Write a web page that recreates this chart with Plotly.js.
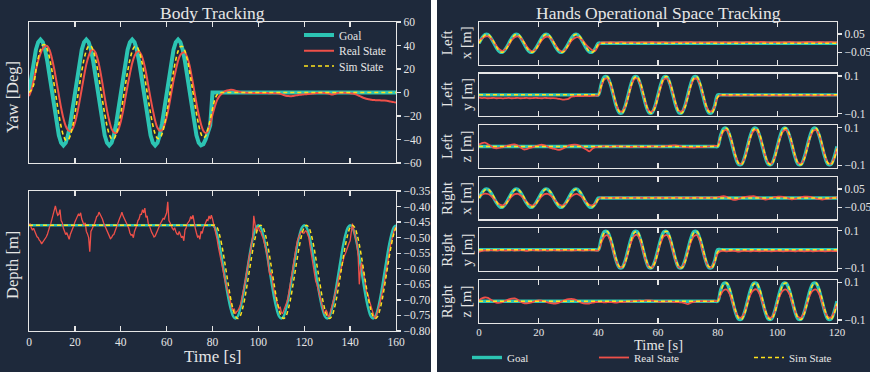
<!DOCTYPE html>
<html><head><meta charset="utf-8">
<script src="https://cdn.plot.ly/plotly-3.0.1.min.js"></script>
<style>html,body{margin:0;padding:0;background:#ffffff;}#chart{width:870px;height:372px;}</style>
</head><body><div id="chart"></div>
<script>
// ---------------- DATA ----------------
const tBody = [0,1,2,3,4,5,6,7,8,9,10,11,12,13,14,15,16,17,18,19,20,21,22,23,24,25,26,27,28,29,30,31,32,33,34,35,36,37,38,39,40,41,42,43,44,45,46,47,48,49,50,51,52,53,54,55,56,57,58,59,60,61,62,63,64,65,66,67,68,69,70,71,72,73,74,75,76,77,78,79,80,81,82,83,84,85,86,87,88,89,90,91,92,93,94,95,96,97,98,99,100,101,102,103,104,105,106,107,108,109,110,111,112,113,114,115,116,117,118,119,120,121,122,123,124,125,126,127,128,129,130,131,132,133,134,135,136,137,138,139,140,141,142,143,144,145,146,147,148,149,150,151,152,153,154,155,156,157,158,159,160];

const yawGoal = [
0,13.9,26.5,36.4,42.8,45,42.8,36.4,26.5,13.9,0,-13.9,-26.5,-36.4,-42.8,-45,-42.8,-36.4,-26.5,-13.9,
0,13.9,26.5,36.4,42.8,45,42.8,36.4,26.5,13.9,0,-13.9,-26.5,-36.4,-42.8,-45,-42.8,-36.4,-26.5,-13.9,
0,13.9,26.5,36.4,42.8,45,42.8,36.4,26.5,13.9,0,-13.9,-26.5,-36.4,-42.8,-45,-42.8,-36.4,-26.5,-13.9,
0,13.9,26.5,36.4,42.8,45,42.8,36.4,26.5,13.9,0,-13.9,-26.5,-36.4,-42.8,-45,-44,-40,-34,-28,
0,0,0,0,0,0,0,0,0,0,0,0,0,0,0,0,0,0,0,0,
0,0,0,0,0,0,0,0,0,0,0,0,0,0,0,0,0,0,0,0,
0,0,0,0,0,0,0,0,0,0,0,0,0,0,0,0,0,0,0,0,
0,0,0,0,0,0,0,0,0,0,0,0,0,0,0,0,0,0,0,0,
0];
const yawReal = [
-3,2,10,19,27,33,37.5,39.5,39.5,36,29,20,9,-2,-13,-22,-28.5,-32,-33,-31,-26,
-18,-8,3,14,24,31,35.5,36.5,34,28,19,8,-4,-15,-24,-31,-34,-34.5,-31.5,-25,
-16,-5,6,16,25,31,34.5,35,32,26,17,6,-5,-15,-24,-30,-32.5,-32,-28,-21,
-12,-1,10,19,27,32,34,34,30,23,13,2,-9,-19,-27,-32.5,-34.5,-33,-27,-19,
-12,-6.5,-3,-1,0.5,1.5,2,2.3,2.1,1.5,0.9,0.4,0.1,-0.1,-0.2,-0.3,-0.3,-0.4,-0.3,-0.4,
-0.4,-0.5,-0.4,-0.5,-0.6,-0.5,-0.6,-0.7,-0.9,-1.4,-2.1,-2.7,-3,-3.1,-2.9,-2.6,-2.3,-2,-1.8,-1.6,
-1.4,-1.2,-1,-0.8,-0.6,-0.4,-0.3,-0.3,-0.4,-0.6,-1,-1.8,-1.4,-0.7,-0.3,-0.2,-0.2,-0.3,-0.4,-0.6,
-0.9,-1.3,-2,-2.9,-3.8,-4.7,-5.3,-5.8,-6.1,-6.4,-6.5,-6.6,-6.7,-6.8,-6.9,-7.1,-7.4,-7.8,-8.2,-8.5];
const yawSim = [
0,2,
6.4,18.6,29,36.5,40.5,40.5,36.5,29,18.6,6.4,-6.4,-18.6,-29,-36.5,-40.5,-40.5,-36.5,-29,-18.6,-6.4,
6.2,18.2,28.3,35.6,39.5,39.5,35.6,28.3,18.2,6.2,-6.2,-18.2,-28.3,-35.6,-39.5,-39.5,-35.6,-28.3,-18.2,-6.2,
6.2,17.9,27.9,35.2,39,39,35.2,27.9,17.9,6.2,-6.2,-17.9,-27.9,-35.2,-39,-39,-35.2,-27.9,-17.9,-6.2,
6.2,17.9,27.9,35.2,39,39,35.2,27.9,17.9,6.2,-6.2,-17.9,-27.9,-35.2,-38.5,-37,-31,-23,-14,-6,-2,-0.5,
0,0,0,0,0,0,0,0,0,0,0,0,0,0,0,0,0,0,0,0,
0,0,0,0,0,0,0,0,0,0,0,0,0,0,0,0,0,0,0,0,
0,0,0,0,0,0,0,0,0,0,0,0,0,0,0,0,0,0,0,0,
0,0,0,0,0,0,0,0,0,0,0,0,0,0,0,0,0];

const depthGoal = [
-0.46,-0.46,-0.46,-0.46,-0.46,-0.46,-0.46,-0.46,-0.46,-0.46,-0.46,-0.46,-0.46,-0.46,-0.46,-0.46,-0.46,-0.46,-0.46,-0.46,
-0.46,-0.46,-0.46,-0.46,-0.46,-0.46,-0.46,-0.46,-0.46,-0.46,-0.46,-0.46,-0.46,-0.46,-0.46,-0.46,-0.46,-0.46,-0.46,-0.46,
-0.46,-0.46,-0.46,-0.46,-0.46,-0.46,-0.46,-0.46,-0.46,-0.46,-0.46,-0.46,-0.46,-0.46,-0.46,-0.46,-0.46,-0.46,-0.46,-0.46,
-0.46,-0.46,-0.46,-0.46,-0.46,-0.46,-0.46,-0.46,-0.46,-0.46,-0.46,-0.46,-0.46,-0.46,-0.46,-0.46,-0.46,-0.46,-0.46,-0.46,
-0.46,
-0.467,-0.489,-0.522,-0.564,-0.61,-0.656,-0.698,-0.731,-0.753,-0.76,-0.753,-0.731,-0.698,-0.656,-0.61,-0.564,-0.522,-0.489,-0.467,-0.46,
-0.467,-0.489,-0.522,-0.564,-0.61,-0.656,-0.698,-0.731,-0.753,-0.76,-0.753,-0.731,-0.698,-0.656,-0.61,-0.564,-0.522,-0.489,-0.467,-0.46,
-0.467,-0.489,-0.522,-0.564,-0.61,-0.656,-0.698,-0.731,-0.753,-0.76,-0.753,-0.731,-0.698,-0.656,-0.61,-0.564,-0.522,-0.489,-0.467,-0.46,
-0.467,-0.489,-0.522,-0.564,-0.61,-0.656,-0.698,-0.731,-0.753,-0.76,-0.753,-0.731,-0.698,-0.656,-0.61,-0.564,-0.522,-0.489,-0.467,-0.46];
const depthSim = [
-0.46,-0.46,-0.46,-0.46,-0.46,-0.46,-0.46,-0.46,-0.46,-0.46,-0.46,-0.46,-0.46,-0.46,-0.46,-0.46,-0.46,-0.46,-0.46,-0.46,
-0.46,-0.46,-0.46,-0.46,-0.46,-0.46,-0.46,-0.46,-0.46,-0.46,-0.46,-0.46,-0.46,-0.46,-0.46,-0.46,-0.46,-0.46,-0.46,-0.46,
-0.46,-0.46,-0.46,-0.46,-0.46,-0.46,-0.46,-0.46,-0.46,-0.46,-0.46,-0.46,-0.46,-0.46,-0.46,-0.46,-0.46,-0.46,-0.46,-0.46,
-0.46,-0.46,-0.46,-0.46,-0.46,-0.46,-0.46,-0.46,-0.46,-0.46,-0.46,-0.46,-0.46,-0.46,-0.46,-0.46,-0.46,-0.46,-0.46,-0.46,
-0.46,-0.46,
-0.467,-0.489,-0.522,-0.564,-0.61,-0.656,-0.698,-0.731,-0.753,-0.76,-0.753,-0.731,-0.698,-0.656,-0.61,-0.564,-0.522,-0.489,-0.467,-0.46,
-0.467,-0.489,-0.522,-0.564,-0.61,-0.656,-0.698,-0.731,-0.753,-0.76,-0.753,-0.731,-0.698,-0.656,-0.61,-0.564,-0.522,-0.489,-0.467,-0.46,
-0.467,-0.489,-0.522,-0.564,-0.61,-0.656,-0.698,-0.731,-0.753,-0.76,-0.753,-0.731,-0.698,-0.656,-0.61,-0.564,-0.522,-0.489,-0.467,-0.46,
-0.467,-0.489,-0.522,-0.564,-0.61,-0.656,-0.698,-0.731,-0.753,-0.76,-0.753,-0.731,-0.698,-0.656,-0.61,-0.564,-0.522,-0.489,-0.467];

// real depth is sampled every half second
const tDepthReal = [
0,0.5,1,1.5,2,2.5,3,3.5,4,4.5,5,5.5,6,6.5,7,7.5,8,8.5,9,9.5,
10,10.5,11,11.5,12,12.5,13,13.5,14,14.5,15,15.5,16,16.5,17,17.5,18,18.5,19,19.5,
20,20.5,21,21.5,22,22.5,23,23.5,24,24.5,25,25.5,26,26.5,27,27.5,28,28.5,29,29.5,
30,30.5,31,31.5,32,32.5,33,33.5,34,34.5,35,35.5,36,36.5,37,37.5,38,38.5,39,39.5,
40,40.5,41,41.5,42,42.5,43,43.5,44,44.5,45,45.5,46,46.5,47,47.5,48,48.5,49,49.5,
50,50.5,51,51.5,52,52.5,53,53.5,54,54.5,55,55.5,56,56.5,57,57.5,58,58.5,59,59.5,
60,60.5,61,61.5,62,62.5,63,63.5,64,64.5,65,65.5,66,66.5,67,67.5,68,68.5,69,69.5,
70,70.5,71,71.5,72,72.5,73,73.5,74,74.5,75,75.5,76,76.5,77,77.5,78,78.5,79,79.5,
80,80.5,81,81.5,82,82.5,83,83.5,84,84.5,85,85.5,86,86.5,87,87.5,88,88.5,89,89.5,
90,90.5,91,91.5,92,92.5,93,93.5,94,94.5,95,95.5,96,96.5,97,97.5,98,98.5,99,99.5,
100,100.5,101,101.5,102,102.5,103,103.5,104,104.5,105,105.5,106,106.5,107,107.5,108,108.5,109,109.5,
110,110.5,111,111.5,112,112.5,113,113.5,114,114.5,115,115.5,116,116.5,117,117.5,118,118.5,119,119.5,
120,120.5,121,121.5,122,122.5,123,123.5,124,124.5,125,125.5,126,126.5,127,127.5,128,128.5,129,129.5,
130,130.5,131,131.5,132,132.5,133,133.5,134,134.5,135,135.5,136,136.5,137,137.5,138,138.5,139,139.5,
140,140.5,141,141.5,142,142.5,143,143.5,144,144.5,145,145.5,146,146.5,147,147.5,148,148.5,149,149.5,
150,150.5,151,151.5,152,152.5,153,153.5,154,154.5,155,155.5,156,156.5,157,157.5,158,158.5,159,159.5,
160];
const depthReal = [
-0.462,-0.455,-0.468,-0.476,-0.470,-0.482,-0.488,-0.497,-0.500,-0.508,-0.512,-0.520,-0.515,-0.506,-0.505,-0.498,-0.490,-0.472,-0.465,-0.455,
-0.440,-0.428,-0.420,-0.398,-0.415,-0.428,-0.425,-0.410,-0.445,-0.452,-0.470,-0.478,-0.490,-0.484,-0.495,-0.505,-0.490,-0.482,-0.470,-0.462,
-0.450,-0.440,-0.435,-0.425,-0.430,-0.420,-0.440,-0.448,-0.460,-0.452,-0.480,-0.488,-0.500,-0.545,-0.480,-0.472,-0.465,-0.455,-0.445,-0.432,
-0.430,-0.418,-0.425,-0.432,-0.440,-0.452,-0.460,-0.468,-0.480,-0.487,-0.495,-0.503,-0.500,-0.492,-0.490,-0.478,-0.470,-0.458,-0.445,-0.438,
-0.430,-0.418,-0.430,-0.438,-0.445,-0.455,-0.465,-0.470,-0.485,-0.492,-0.490,-0.500,-0.480,-0.472,-0.460,-0.445,-0.440,-0.425,-0.425,-0.410,
-0.420,-0.405,-0.435,-0.430,-0.455,-0.462,-0.475,-0.483,-0.490,-0.498,-0.495,-0.485,-0.480,-0.470,-0.460,-0.452,-0.445,-0.438,-0.440,-0.428,
-0.420,-0.385,-0.445,-0.452,-0.465,-0.470,-0.475,-0.468,-0.480,-0.488,-0.490,-0.480,-0.490,-0.500,-0.495,-0.510,-0.475,-0.468,-0.455,-0.448,
-0.445,-0.432,-0.440,-0.428,-0.455,-0.470,-0.485,-0.498,-0.495,-0.505,-0.480,-0.486,-0.470,-0.462,-0.455,-0.443,-0.445,-0.430,-0.440,-0.428,
-0.440,-0.455,-0.470,-0.490,-0.505,-0.528,-0.545,-0.560,-0.585,-0.600,-0.620,-0.640,-0.655,-0.665,-0.690,-0.700,-0.710,-0.725,-0.735,-0.728,
-0.745,-0.738,-0.735,-0.728,-0.720,-0.705,-0.690,-0.668,-0.650,-0.632,-0.610,-0.585,-0.560,-0.545,-0.520,-0.500,-0.430,-0.465,-0.480,-0.470,
-0.465,-0.478,-0.480,-0.492,-0.500,-0.515,-0.530,-0.548,-0.560,-0.600,-0.620,-0.612,-0.630,-0.660,-0.680,-0.690,-0.705,-0.718,-0.730,-0.722,
-0.740,-0.745,-0.735,-0.728,-0.720,-0.705,-0.690,-0.665,-0.640,-0.620,-0.600,-0.578,-0.550,-0.530,-0.510,-0.498,-0.490,-0.482,-0.480,-0.486,
-0.485,-0.478,-0.480,-0.490,-0.500,-0.525,-0.550,-0.575,-0.600,-0.615,-0.640,-0.650,-0.665,-0.685,-0.700,-0.712,-0.725,-0.738,-0.745,-0.732,
-0.740,-0.755,-0.750,-0.735,-0.730,-0.715,-0.700,-0.685,-0.670,-0.650,-0.630,-0.615,-0.600,-0.585,-0.570,-0.558,-0.550,-0.538,-0.530,-0.518,
-0.510,-0.480,-0.455,-0.475,-0.490,-0.505,-0.520,-0.560,-0.650,-0.600,-0.580,-0.605,-0.620,-0.640,-0.670,-0.678,-0.690,-0.705,-0.720,-0.735,
-0.750,-0.755,-0.760,-0.750,-0.740,-0.725,-0.710,-0.695,-0.680,-0.660,-0.640,-0.615,-0.590,-0.570,-0.550,-0.528,-0.510,-0.495,-0.480,-0.470,
-0.465];

const tHands = [0,1,2,3,4,5,6,7,8,9,10,11,12,13,14,15,16,17,18,19,20,21,22,23,24,25,26,27,28,29,30,31,32,33,34,35,36,37,38,39,40,41,42,43,44,45,46,47,48,49,50,51,52,53,54,55,56,57,58,59,60,61,62,63,64,65,66,67,68,69,70,71,72,73,74,75,76,77,78,79,80,81,82,83,84,85,86,87,88,89,90,91,92,93,94,95,96,97,98,99,100,101,102,103,104,105,106,107,108,109,110,111,112,113,114,115,116,117,118,119,120];

const goalX = [
0,0.029,0.048,0.048,0.029,0,-0.029,-0.048,-0.048,-0.029,
0,0.029,0.048,0.048,0.029,0,-0.029,-0.048,-0.048,-0.029,
0,0.029,0.048,0.048,0.029,0,-0.029,-0.048,-0.048,-0.029,
0,0.029,0.048,0.048,0.029,0,-0.029,-0.048,-0.048,-0.029,
0,0,0,0,0,0,0,0,0,0,0,0,0,0,0,0,0,0,0,0,
0,0,0,0,0,0,0,0,0,0,0,0,0,0,0,0,0,0,0,0,
0,0,0,0,0,0,0,0,0,0,0,0,0,0,0,0,0,0,0,0,
0,0,0,0,0,0,0,0,0,0,0,0,0,0,0,0,0,0,0,0,
0];
const simX = [
0,0.025,0.045,0.049,0.033,0.006,-0.024,-0.045,-0.049,-0.034,
-0.006,0.025,0.045,0.049,0.033,0.006,-0.024,-0.045,-0.049,-0.034,
-0.006,0.025,0.045,0.049,0.033,0.006,-0.024,-0.045,-0.049,-0.034,
-0.006,0.025,0.045,0.049,0.033,0.006,-0.024,-0.045,-0.049,-0.034,
-0.006,0,0,0,0,0,0,0,0,0,0,0,0,0,0,0,0,0,0,0,
0,0,0,0,0,0,0,0,0,0,0,0,0,0,0,0,0,0,0,0,
0,0,0,0,0,0,0,0,0,0,0,0,0,0,0,0,0,0,0,0,
0,0,0,0,0,0,0,0,0,0,0,0,0,0,0,0,0,0,0,0,
0];
const realLX = [
0.012,0.026,0.036,0.038,0.027,0.006,-0.018,-0.036,-0.042,-0.031,
-0.008,0.018,0.033,0.037,0.029,0.008,-0.017,-0.037,-0.045,-0.034,
-0.01,0.016,0.032,0.036,0.028,0.007,-0.018,-0.038,-0.046,-0.035,
-0.011,0.014,0.028,0.033,0.026,0.01,-0.01,-0.025,-0.038,-0.04,
-0.012,0.004,0.005,0.004,0.006,0.005,0.003,0.005,0.007,0.004,
0.004,0.006,0.005,0.003,0.005,0.006,0.004,0.005,0.007,0.005,
0.004,0.005,0.006,0.004,0.003,0.005,0.006,0.005,0.004,0.006,
0.005,0.007,0.005,0.004,0.006,0.004,0.005,0.005,0.007,0.006,
0.005,0.004,0.006,0.005,0.004,0.006,0.007,0.005,0.004,0.005,
0.006,0.005,0.004,0.005,0.006,0.008,0.006,0.005,0.004,0.006,
0.005,0.004,0.006,0.005,0.007,0.006,0.005,0.004,0.005,0.006,
0.007,0.008,0.006,0.005,0.007,0.006,0.005,0.006,0.007,0.005,
0.005];
const realRX = [
0.008,0.018,0.024,0.022,0.012,-0.004,-0.022,-0.036,-0.04,-0.03,
-0.01,0.01,0.021,0.023,0.014,-0.003,-0.022,-0.037,-0.041,-0.031,
-0.011,0.009,0.021,0.023,0.014,-0.003,-0.022,-0.037,-0.041,-0.031,
-0.011,0.009,0.02,0.022,0.013,-0.004,-0.023,-0.037,-0.04,-0.03,
-0.008,0.003,0.002,0.001,0.002,0.001,0.002,0.003,0.002,0.001,
0.002,0.001,0.002,0.003,0.002,0.001,0.002,0.002,0.001,0.002,
0.003,0.002,0.001,0.002,0.002,0.001,0.003,0.002,0.001,0.002,
0.002,0.001,0.002,0.003,0.002,0.001,0.002,0.002,0.003,0.002,
0.004,0.008,0.01,0.006,-0.002,-0.008,-0.01,-0.005,0.002,0.006,
0.008,0.009,0.01,0.007,0.002,-0.004,-0.008,-0.006,0,0.005,
0.007,0.008,0.006,0.002,-0.003,-0.007,-0.004,0.001,0.005,0.007,
0.008,0.006,0.002,-0.003,-0.006,-0.008,-0.006,-0.003,0,0.002,
0.003];

const goalY = [
0,0,0,0,0,0,0,0,0,0,0,0,0,0,0,0,0,0,0,0,
0,0,0,0,0,0,0,0,0,0,0,0,0,0,0,0,0,0,0,0,
0,0.059,0.095,0.095,0.059,0,-0.059,-0.095,-0.095,-0.059,
0,0.059,0.095,0.095,0.059,0,-0.059,-0.095,-0.095,-0.059,
0,0.059,0.095,0.095,0.059,0,-0.059,-0.095,-0.095,-0.059,
0,0.059,0.095,0.095,0.059,0,-0.059,-0.095,-0.095,-0.059,
0,0,0,0,0,0,0,0,0,0,0,0,0,0,0,0,0,0,0,0,
0,0,0,0,0,0,0,0,0,0,0,0,0,0,0,0,0,0,0,0,
0];
const simY = [
0,0,0,0,0,0,0,0,0,0,0,0,0,0,0,0,0,0,0,0,
0,0,0,0,0,0,0,0,0,0,0,0,0,0,0,0,0,0,0,0,
0,0.05,0.09,0.097,0.068,0.012,-0.05,-0.09,-0.097,-0.068,
-0.012,0.05,0.09,0.097,0.068,0.012,-0.05,-0.09,-0.097,-0.068,
-0.012,0.05,0.09,0.097,0.068,0.012,-0.05,-0.09,-0.097,-0.068,
-0.012,0.05,0.09,0.097,0.068,0.012,-0.05,-0.09,-0.097,-0.068,
-0.012,0,0,0,0,0,0,0,0,0,0,0,0,0,0,0,0,0,0,0,
0,0,0,0,0,0,0,0,0,0,0,0,0,0,0,0,0,0,0,0,
0];
const realLY = [
-0.015,-0.017,-0.016,-0.018,-0.017,-0.016,-0.018,-0.017,-0.019,-0.017,
-0.016,-0.018,-0.017,-0.016,-0.018,-0.017,-0.016,-0.018,-0.017,-0.016,
-0.017,-0.018,-0.016,-0.017,-0.018,-0.017,-0.019,-0.022,-0.025,-0.024,
-0.021,-0.01,-0.008,-0.006,-0.007,-0.006,-0.005,-0.006,-0.005,-0.004,
-0.002,0.045,0.082,0.087,0.06,0.008,-0.05,-0.085,-0.088,-0.062,
-0.01,0.046,0.083,0.088,0.061,0.007,-0.051,-0.086,-0.089,-0.063,
-0.011,0.045,0.082,0.087,0.06,0.008,-0.05,-0.085,-0.088,-0.062,
-0.01,0.046,0.082,0.086,0.059,0.007,-0.05,-0.085,-0.087,-0.062,
-0.012,-0.002,-0.003,-0.002,-0.004,-0.003,-0.002,-0.003,-0.004,-0.002,
-0.003,-0.002,-0.004,-0.003,-0.002,-0.003,-0.002,-0.004,-0.003,-0.002,
-0.003,-0.004,-0.002,-0.003,-0.002,-0.003,-0.004,-0.002,-0.003,-0.002,
-0.003,-0.002,-0.004,-0.003,-0.002,-0.003,-0.004,-0.003,-0.002,-0.003,
-0.003];
const realRY = [
-0.012,-0.006,-0.004,-0.005,-0.003,-0.004,-0.005,-0.003,-0.004,-0.005,
-0.004,-0.003,-0.005,-0.004,-0.003,-0.004,-0.006,-0.004,-0.003,-0.004,
-0.005,-0.004,-0.003,-0.005,-0.004,-0.003,-0.004,-0.005,-0.004,-0.003,
-0.004,-0.005,-0.004,-0.003,-0.004,-0.005,-0.004,-0.003,-0.004,-0.005,
-0.004,0.038,0.07,0.077,0.05,-0.005,-0.06,-0.092,-0.093,-0.065,
-0.012,0.04,0.072,0.078,0.052,-0.004,-0.06,-0.092,-0.094,-0.066,
-0.012,0.04,0.072,0.077,0.051,-0.005,-0.061,-0.093,-0.094,-0.065,
-0.012,0.04,0.071,0.077,0.05,-0.005,-0.06,-0.092,-0.093,-0.064,
-0.02,-0.008,-0.007,-0.009,-0.008,-0.007,-0.008,-0.01,-0.008,-0.007,
-0.008,-0.009,-0.007,-0.008,-0.009,-0.008,-0.007,-0.008,-0.009,-0.008,
-0.007,-0.008,-0.009,-0.008,-0.007,-0.008,-0.009,-0.007,-0.008,-0.009,
-0.008,-0.007,-0.009,-0.008,-0.007,-0.008,-0.009,-0.008,-0.007,-0.008,
-0.008];

const goalZ = [
0,0,0,0,0,0,0,0,0,0,0,0,0,0,0,0,0,0,0,0,
0,0,0,0,0,0,0,0,0,0,0,0,0,0,0,0,0,0,0,0,
0,0,0,0,0,0,0,0,0,0,0,0,0,0,0,0,0,0,0,0,
0,0,0,0,0,0,0,0,0,0,0,0,0,0,0,0,0,0,0,0,
0,0.059,0.095,0.095,0.059,0,-0.059,-0.095,-0.095,-0.059,
0,0.059,0.095,0.095,0.059,0,-0.059,-0.095,-0.095,-0.059,
0,0.059,0.095,0.095,0.059,0,-0.059,-0.095,-0.095,-0.059,
0,0.059,0.095,0.095,0.059,0,-0.059,-0.095,-0.095,-0.059,
0];
const simZ = [
0,0,0,0,0,0,0,0,0,0,0,0,0,0,0,0,0,0,0,0,
0,0,0,0,0,0,0,0,0,0,0,0,0,0,0,0,0,0,0,0,
0,0,0,0,0,0,0,0,0,0,0,0,0,0,0,0,0,0,0,0,
0,0,0,0,0,0,0,0,0,0,0,0,0,0,0,0,0,0,0,0,
0,0.05,0.09,0.097,0.068,0.012,-0.05,-0.09,-0.097,-0.068,
-0.012,0.05,0.09,0.097,0.068,0.012,-0.05,-0.09,-0.097,-0.068,
-0.012,0.05,0.09,0.097,0.068,0.012,-0.05,-0.09,-0.097,-0.068,
-0.012,0.05,0.09,0.097,0.068,0.012,-0.05,-0.09,-0.097,-0.068,
-0.012];
const realLZ = [
0.01,0.018,0.02,0.012,0.002,-0.008,-0.01,-0.006,-0.003,0.002,
0.006,0.01,0.011,0.005,-0.006,-0.016,-0.014,-0.008,-0.004,0.002,
0.006,0.009,0.006,0,-0.008,-0.012,-0.016,-0.018,-0.012,-0.004,
0.004,0.008,0.01,0.009,0.002,-0.008,-0.016,-0.026,-0.012,-0.004,
-0.002,-0.001,0.001,0,-0.002,-0.001,0.002,0.001,-0.001,0,
-0.002,-0.003,-0.001,0,-0.002,-0.004,-0.003,-0.001,0.001,0,
-0.002,-0.001,0.001,0.002,0.004,0.005,0.006,0.003,-0.001,-0.003,
-0.004,-0.005,-0.006,-0.004,-0.003,-0.004,-0.002,0,0.002,0.003,
0.004,0.05,0.082,0.088,0.06,0.008,-0.05,-0.088,-0.092,-0.065,
-0.008,0.048,0.082,0.088,0.06,0.008,-0.052,-0.088,-0.092,-0.065,
-0.008,0.048,0.082,0.088,0.06,0.008,-0.052,-0.088,-0.092,-0.065,
-0.008,0.048,0.082,0.088,0.06,0.008,-0.052,-0.088,-0.092,-0.065,
-0.008];
const realRZ = [
0.005,0.015,0.02,0.018,0.008,-0.002,-0.008,-0.007,-0.003,0.004,
0.01,0.014,0.015,0.008,-0.003,-0.01,-0.011,-0.009,-0.004,0.002,
0.004,0.003,-0.001,-0.006,-0.01,-0.012,-0.011,-0.006,0.001,0.007,
0.011,0.013,0.01,0.003,-0.006,-0.011,-0.012,-0.012,-0.008,-0.004,
-0.003,-0.004,-0.006,-0.005,-0.004,-0.006,-0.007,-0.005,-0.004,-0.003,
-0.002,-0.001,0,0.002,0.003,0.002,0.004,0.005,0.003,0,
-0.002,-0.003,-0.002,-0.001,-0.002,-0.003,-0.004,-0.005,-0.006,-0.01,
-0.015,-0.008,-0.003,-0.001,0,0.001,0,-0.001,0,0.001,
0.002,0.035,0.058,0.062,0.04,-0.005,-0.055,-0.083,-0.086,-0.06,
-0.01,0.036,0.059,0.063,0.041,-0.004,-0.054,-0.083,-0.087,-0.061,
-0.01,0.036,0.059,0.062,0.04,-0.005,-0.055,-0.084,-0.087,-0.06,
-0.01,0.035,0.058,0.062,0.04,-0.005,-0.055,-0.083,-0.086,-0.06,
-0.01];

const seriesNames = ['Goal','Real State','Sim State'];
const handLabels = ['Left<br>x [m]','Left<br>y [m]','Left<br>z [m]','Right<br>x [m]','Right<br>y [m]','Right<br>z [m]'];
const yawTicks = [-60,-40,-20,0,20,40,60];
const smallTicks = [-0.05,0.05];
const bigTicks = [-0.1,0.1];

// ---------------- STYLE / LAYOUT ----------------
const W=870,H=372;
const BG='#1e293b', FG='#e6e6e6', TEAL='#2cc4b3', RED='#ef5049', YEL='#ffe31c';
const FONT='Liberation Serif, Times New Roman, serif';
const px=v=>v/W, py=v=>1-v/H;

const traces=[];
function addSet(xa,ya,tg,g,tr,r,ts,s,w,shape,legs){
  traces.push({x:tg,y:g,xaxis:xa,yaxis:ya,type:'scatter',mode:'lines',name:seriesNames[0],
    line:{color:TEAL,width:w[0],shape:shape[0],smoothing:1},showlegend:!!legs,legend:legs?legs[0]:undefined});
  traces.push({x:tr,y:r,xaxis:xa,yaxis:ya,type:'scatter',mode:'lines',name:seriesNames[1],
    line:{color:RED,width:w[1],shape:shape[1],smoothing:0.8},showlegend:!!legs,legend:legs?legs[1]:undefined});
  traces.push({x:ts,y:s,xaxis:xa,yaxis:ya,type:'scatter',mode:'lines',name:seriesNames[2],
    line:{color:YEL,width:w[2],dash:'4px,3px',shape:shape[2],smoothing:1},showlegend:!!legs,legend:legs?legs[2]:undefined});
}
addSet('x','y',tBody,yawGoal,tBody,yawReal,tBody,yawSim,[4,2,1.6],['linear','spline','spline'],['legend','legend2','legend3']);
addSet('x2','y2',tBody,depthGoal,tDepthReal,depthReal,tBody,depthSim,[2.4,1.3,1.5],['spline','linear','spline'],null);
const handSets=[[goalX,realLX,simX],[goalY,realLY,simY],[goalZ,realLZ,simZ],[goalX,realRX,simX],[goalY,realRY,simY],[goalZ,realRZ,simZ]];
handSets.forEach((s,i)=>{
  addSet('x'+(i+3),'y'+(i+3),tHands,s[0],tHands,s[1],tHands,s[2],[3.4,1.8,1.5],['spline','spline','spline'],i===0?['legend4','legend5','legend6']:null);
});

const tickfont={family:FONT,size:11.5,color:FG};
function xax(dom,range,labels,anchor){
  return {domain:dom,range:range,dtick:20,tick0:0,showline:true,linecolor:FG,linewidth:1.3,mirror:'ticks',
    ticks:'inside',ticklen:5,tickwidth:1.3,tickcolor:FG,showgrid:false,zeroline:false,showticklabels:labels,
    tickfont:tickfont,anchor:anchor,fixedrange:true};
}
function yax(dom,range,tv,fmt,anchor){
  const a={domain:dom,range:range,side:'right',showline:true,linecolor:FG,linewidth:1.3,mirror:true,
    ticks:'outside',ticklen:4,tickwidth:1.3,tickcolor:FG,showgrid:false,zeroline:false,tickfont:tickfont,anchor:anchor,fixedrange:true};
  if(tv) a.tickvals=tv;
  if(fmt) a.tickformat=fmt;
  return a;
}
const LX=[px(29),px(396)], RX=[px(479),px(837)];
const layout={
  width:W,height:H,margin:{l:0,r:0,t:0,b:0,autoexpand:false},paper_bgcolor:BG,plot_bgcolor:BG,
  font:{family:FONT,color:FG},
  xaxis:xax(LX,[0,160],false,'y'),
  yaxis:yax([py(163),py(22)],[-60,60],yawTicks,null,'x'),
  xaxis2:xax(LX,[0,160],true,'y2'),
  yaxis2:Object.assign(yax([py(331),py(191)],[-0.80,-0.35],null,'.2f','x2'),{dtick:0.05,tick0:-0.8}),
  annotations:[],
  shapes:[{type:'rect',xref:'paper',yref:'paper',x0:px(431),x1:px(437),y0:0,y1:1,fillcolor:'#ffffff',line:{width:0},layer:'above'}]
};
const top0=22, hgt=42.5, per=51.6;
for(let i=0;i<6;i++){
  const t=top0+i*per, b=t+hgt;
  const isX=(i%3===0);
  layout['xaxis'+(i+3)]=xax(RX,[0,120],i===5,'y'+(i+3));
  layout['yaxis'+(i+3)]=yax([py(b),py(t)],isX?[-0.116,0.116]:[-0.113,0.113],isX?smallTicks:bigTicks,null,'x'+(i+3));
  layout.annotations.push({text:handLabels[i],xref:'paper',yref:'paper',x:px(457),y:py((t+b)/2),textangle:-90,
    showarrow:false,xanchor:'center',yanchor:'middle',font:{family:FONT,size:15,color:FG}});
}
layout.xaxis8.tickfont={family:FONT,size:11,color:FG};
layout.xaxis8.ticklabelstandoff=-1;
layout.annotations.push(
  {text:'Body Tracking',xref:'paper',yref:'paper',x:px(212),y:py(13),showarrow:false,xanchor:'center',yanchor:'middle',font:{family:FONT,size:17.5,color:FG}},
  {text:'Hands Operational Space Tracking',xref:'paper',yref:'paper',x:px(658),y:py(13),showarrow:false,xanchor:'center',yanchor:'middle',font:{family:FONT,size:17.5,color:FG}},
  {text:'Yaw [Deg]',xref:'paper',yref:'paper',x:px(12),y:py(97),textangle:-90,showarrow:false,xanchor:'center',yanchor:'middle',font:{family:FONT,size:16.5,color:FG}},
  {text:'Depth [m]',xref:'paper',yref:'paper',x:px(12),y:py(265),textangle:-90,showarrow:false,xanchor:'center',yanchor:'middle',font:{family:FONT,size:16.5,color:FG}},
  {text:'Time [s]',xref:'paper',yref:'paper',x:px(212),y:py(356),showarrow:false,xanchor:'center',yanchor:'middle',font:{family:FONT,size:17,color:FG}},
  {text:'Time [s]',xref:'paper',yref:'paper',x:px(658),y:py(344.5),showarrow:false,xanchor:'center',yanchor:'middle',font:{family:FONT,size:14.5,color:FG}}
);
function leg(xText,yc){
  return {x:px(xText-40),y:py(yc),xanchor:'left',yanchor:'middle',bgcolor:'rgba(0,0,0,0)',borderwidth:0,
    font:{family:FONT,size:11.5,color:FG}};
}
layout.legend=leg(339,35);
layout.legend2=leg(339,50.7);
layout.legend3=leg(339,66);
function legBottom(xText){
  return {x:px(xText-40),y:0,xanchor:'left',yanchor:'bottom',bgcolor:'rgba(0,0,0,0)',borderwidth:0,
    font:{family:FONT,size:11,color:FG}};
}
layout.legend4=legBottom(507);
layout.legend5=legBottom(634);
layout.legend6=legBottom(789);

Plotly.newPlot('chart',traces,layout,{displayModeBar:false,staticPlot:true});
</script></body></html>
